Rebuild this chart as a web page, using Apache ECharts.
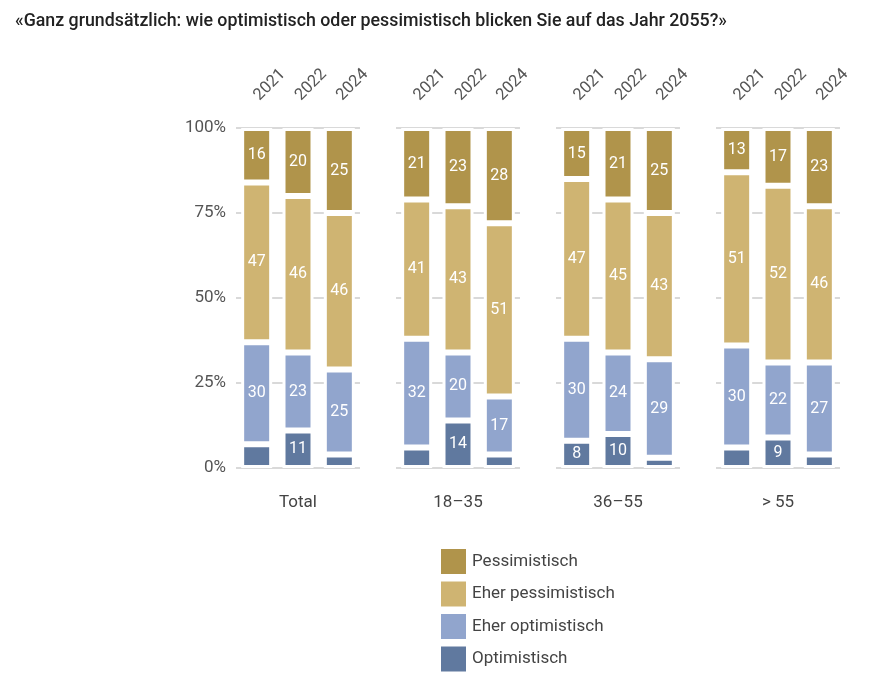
<!DOCTYPE html>
<html>
<head>
<meta charset="utf-8">
<script src="https://cdn.jsdelivr.net/npm/echarts@6/dist/echarts.min.js"></script>
<style>
  html, body { margin: 0; padding: 0; background: #fff; }
  #chart { width: 873px; height: 681px; }
</style>
</head>
<body>
<div id="chart"></div>
<script>
// Daten
const groups = ["Total", "18–35", "36–55", "> 55"];
const years = ["2021", "2022", "2024"];
const yTicks = [0, 25, 50, 75, 100];
// je Gruppe 3 Jahre (2021, 2022, 2024)
const optimistisch = [7, 11, 4, 6, 14, 4, 8, 10, 3, 6, 9, 4];
const eherOptimistisch = [30, 23, 25, 32, 20, 17, 30, 24, 29, 30, 22, 27];
const eherPessimistisch = [47, 46, 46, 41, 43, 51, 47, 45, 43, 51, 52, 46];
const pessimistisch = [16, 20, 25, 21, 23, 28, 15, 21, 25, 13, 17, 23];

const seriesDefs = [
  { name: "Optimistisch", data: optimistisch, color: "#60799f" },
  { name: "Eher optimistisch", data: eherOptimistisch, color: "#91a5cd" },
  { name: "Eher pessimistisch", data: eherPessimistisch, color: "#cfb472" },
  { name: "Pessimistisch", data: pessimistisch, color: "#b0944b" },
];

const font = "Roboto, 'Noto Sans', sans-serif";
const grids = [], xAxes = [], yAxes = [], series = [];

groups.forEach((g, k) => {
  grids.push({ left: 236 + 160 * k, width: 124, top: 128, height: 340 });
  // Jahre oben
  xAxes.push({
    type: "category", gridIndex: k, position: "top", data: years, offset: 2,
    axisLine: { show: false },
    axisTick: { alignWithLabel: true, length: 15, lineStyle: { color: "#c6c6c6", width: 1.5 } },
    axisLabel: { rotate: 45, margin: 28, color: "#555", fontSize: 16.5, fontFamily: font },
  });
  // Gruppenname unten
  xAxes.push({
    type: "category", gridIndex: k, position: "bottom", data: years, offset: 2,
    axisLine: { show: false },
    axisTick: { alignWithLabel: true, length: 16, lineStyle: { color: "#c6c6c6", width: 1.5 } },
    axisLabel: { show: false },
    name: g, nameLocation: "middle", nameGap: 24,
    nameTextStyle: { color: "#444", fontSize: 17, fontFamily: font },
  });
  yAxes.push({
    type: "value", gridIndex: k, min: yTicks[0], max: yTicks[yTicks.length - 1], interval: 25,
    axisLine: { show: false }, axisTick: { show: false },
    axisLabel: { show: k === 0, formatter: "{value}%", color: "#555", fontSize: 17, margin: 10, fontFamily: font },
    splitLine: { lineStyle: { color: "#cccccc", width: 1.5 } },
  });
  seriesDefs.forEach((s) => {
    series.push({
      name: s.name, type: "bar", stack: "g" + k,
      xAxisIndex: 2 * k, yAxisIndex: k,
      data: s.data.slice(3 * k, 3 * k + 3),
      barWidth: 31,
      itemStyle: { color: s.color, borderColor: "#fff", borderWidth: 3 },
      label: {
        show: true, position: "inside", color: "#fff", fontSize: 16, fontFamily: font,
        formatter: (p) => (p.value >= 8 ? p.value : ""),
      },
    });
  });
});

const chart = echarts.init(document.getElementById("chart"));
chart.setOption({
  animation: false,
  title: {
    text: "«Ganz grundsätzlich: wie optimistisch oder pessimistisch blicken Sie auf das Jahr 2055?»",
    left: 10, top: 8,
    textStyle: { color: "#222", fontSize: 17.8, fontWeight: 500, fontFamily: font },
  },
  legend: {
    orient: "vertical", left: 439, top: 547, padding: 0,
    data: ["Pessimistisch", "Eher pessimistisch", "Eher optimistisch", "Optimistisch"],
    icon: "rect", itemWidth: 27, itemHeight: 27, itemGap: 3.5,
    textStyle: { color: "#444", fontSize: 17, fontFamily: font },
    selectedMode: false,
  },
  grid: grids,
  xAxis: xAxes,
  yAxis: yAxes,
  series: series,
});
</script>
</body>
</html>
